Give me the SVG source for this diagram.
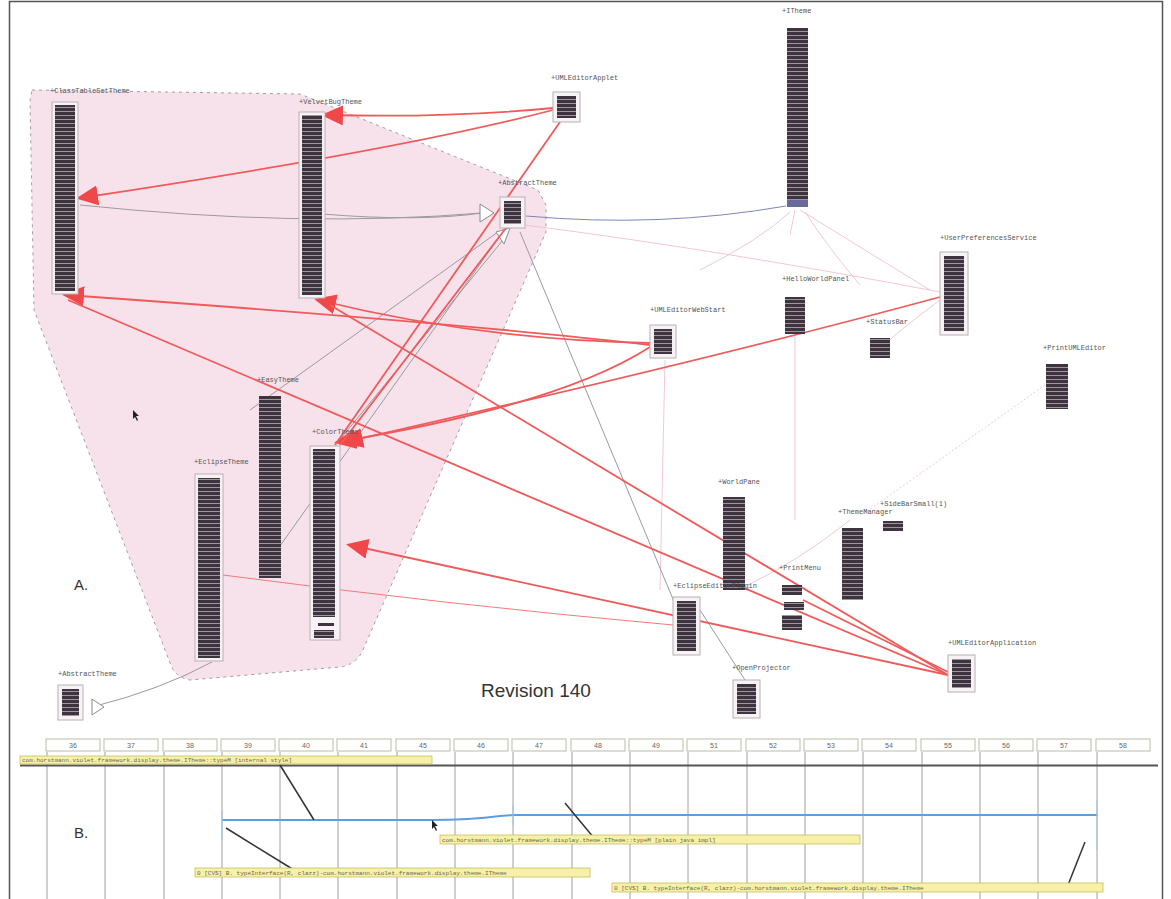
<svg xmlns="http://www.w3.org/2000/svg" width="1171" height="899" viewBox="0 0 1171 899">
<style>
.lbl{font-family:"Liberation Mono",monospace;font-size:7px;fill:#555}
.box{fill:#f7f3f5;stroke:#b8b0b4;stroke-width:1}
.bar{fill:url(#rows)}
.red{fill:none;stroke:#f05a5a;stroke-width:1.8}
.redt{fill:none;stroke:#f07a7a;stroke-width:1}
.gray{fill:none;stroke:#9a9aa0;stroke-width:1}
.pink{fill:none;stroke:#f4b8c4;stroke-width:0.8}
.hollow{fill:#fff;stroke:#8a8a90;stroke-width:1}
.hdr{fill:#fff;stroke:#b9bca8;stroke-width:1}
.hdrt{font-family:"Liberation Sans",sans-serif;font-size:7px;fill:#666;text-anchor:middle}
.vl{stroke:#a0a0a0;stroke-width:1}
.yl{fill:#f7f0a8;stroke:#c9be60;stroke-width:0.8}
.ylt{font-family:"Liberation Mono",monospace;font-size:6px;fill:#665}
.call{stroke:#333;stroke-width:1.5}
</style>
<defs>
<pattern id="rows" width="30" height="4" patternUnits="userSpaceOnUse">
<rect width="30" height="4" fill="#3e3440"/>
<rect y="3" width="30" height="0.8" fill="#b9adb6"/>
</pattern>
<marker id="ah" viewBox="0 0 22 20" refX="18" refY="10" markerWidth="22" markerHeight="20" markerUnits="userSpaceOnUse" orient="auto">
<path d="M0,0 L22,10 L0,20 z" fill="#f04848"/>
</marker>
</defs>
<rect x="0" y="0" width="1171" height="899" fill="#fff"/>
<rect x="9.5" y="1.5" width="1153" height="900" fill="none" stroke="#555" stroke-width="1.5"/>

<!-- package region -->
<path d="M32,90 L300,94 L538,190 L546,205 L546,232 L362,652 Q355,665 340,667 L190,680 Q178,678 172,668 L34,310 L30,100 Z" fill="#f7e2eb" stroke="#a89aa4" stroke-width="1" stroke-dasharray="3,4"/>

<!-- connectors -->
<g id="connectors">
<path class="pink" d="M525,225 Q720,250 940,292"/>
<path class="pink" d="M800,210 L930,290"/>
<path class="pink" d="M795,210 L790,235"/>
<path class="pink" d="M790,212 Q760,240 700,270"/>
<path class="pink" d="M805,212 Q830,250 860,285"/>
<path class="pink" d="M1045,385 L862,515" stroke-dasharray="2,2"/>
<path class="pink" d="M850,520 Q800,560 748,585"/>
<path class="pink" d="M940,300 Q900,330 890,340"/>
<path class="pink" d="M795,335 L795,520"/>
<path class="pink" d="M665,360 L660,590"/>
<path class="gray" d="M520,232 L690,640" stroke="#c4c4c8"/>
<path class="gray" d="M80,205 Q300,228 482,213"/>
<path class="gray" d="M322,214 Q420,222 482,213"/>
<path fill="none" stroke="#7f86b8" stroke-width="1" d="M526,216 Q660,228 786,206"/>
<path class="gray" d="M250,410 L498,232"/>
<path class="gray" d="M338,442 L503,240"/>
<path class="gray" d="M270,560 L500,236"/>
<path class="gray" d="M92,707 Q160,690 212,662"/>
<path class="gray" d="M700,610 L745,680" stroke="#bbb"/>
<polygon class="hollow" points="480,204 494,213 480,222"/>
<polygon class="hollow" points="496,232 510,228 504,244"/>
<polygon class="hollow" points="92,699 104,707 92,715"/>
<path class="redt" d="M223,575 Q450,605 673,625"/>
<path class="red" d="M553,108 Q450,118 325,115" marker-end="url(#ah)"/>
<path class="red" d="M553,110 Q400,150 80,198" marker-end="url(#ah)"/>
<path class="red" d="M650,345 Q450,322 66,295" marker-end="url(#ah)"/>
<path class="red" d="M650,343 Q480,340 318,300" marker-end="url(#ah)"/>
<path class="red" d="M650,347 Q560,405 338,442" marker-end="url(#ah)"/>
<path class="red" d="M940,297 Q700,362 345,442" marker-end="url(#ah)"/>
<path class="red" d="M560,122 L335,445"/>
<path class="red" d="M506,228 L340,445"/>
<path class="red" d="M948,675 L68,300"/>
<path class="red" d="M948,675 L330,305"/>
<path class="red" d="M948,675 L350,545" marker-end="url(#ah)"/>
<path class="red" d="M948,672 L803,600"/>
</g>

<!-- nodes -->
<g id="n-classtableset"><text class="lbl" x="50" y="93">+ClassTableSetTheme</text><rect class="box" x="52" y="102" width="26" height="192"/><rect class="bar" x="55" y="105" width="20" height="186"/></g>
<g id="n-velvet"><text class="lbl" x="299" y="104">+VelvetBugTheme</text><rect class="box" x="299" y="112" width="26" height="186"/><rect class="bar" x="302" y="115" width="20" height="180"/></g>
<g id="n-applet"><text class="lbl" x="551" y="80">+UMLEditorApplet</text><rect class="box" x="553" y="92" width="27" height="30"/><rect class="bar" x="557" y="96" width="19" height="22"/></g>
<g id="n-abstract"><text class="lbl" x="498" y="185">+AbstractTheme</text><rect class="box" x="500" y="197" width="25" height="31"/><rect class="bar" x="504" y="201" width="17" height="23"/></g>
<g id="n-itheme"><text class="lbl" x="782" y="13">+ITheme</text><rect class="bar" x="787" y="28" width="21" height="172"/><rect x="787" y="200" width="21" height="7" fill="#6a6a9a"/></g>
<g id="n-userpref"><text class="lbl" x="940" y="240">+UserPreferencesService</text><rect class="box" x="940" y="252" width="28" height="83"/><rect class="bar" x="944" y="256" width="20" height="75"/></g>
<g id="n-hello"><text class="lbl" x="782" y="281">+HelloWorldPanel</text><rect class="bar" x="785" y="297" width="20" height="37"/></g>
<g id="n-webstart"><text class="lbl" x="650" y="312">+UMLEditorWebStart</text><rect class="box" x="650" y="325" width="26" height="33"/><rect class="bar" x="654" y="329" width="18" height="25"/></g>
<g id="n-statusbar"><text class="lbl" x="866" y="324">+StatusBar</text><rect class="bar" x="870" y="338" width="20" height="20"/></g>
<g id="n-print"><text class="lbl" x="1043" y="350">+PrintUMLEditor</text><rect class="bar" x="1046" y="364" width="22" height="45"/></g>
<g id="n-easy"><text class="lbl" x="257" y="382">+EasyTheme</text><rect class="bar" x="259" y="396" width="22" height="182"/></g>
<g id="n-color"><text class="lbl" x="312" y="434">+ColorTheme</text><rect class="box" x="310" y="446" width="30" height="194"/><rect class="bar" x="313" y="449" width="22" height="168"/><rect x="318" y="623" width="16" height="3" fill="#3e3440"/><rect class="bar" x="314" y="630" width="20" height="8"/></g>
<g id="n-eclipse"><text class="lbl" x="194" y="464">+EclipseTheme</text><rect class="box" x="195" y="474" width="28" height="187"/><rect class="bar" x="198" y="478" width="22" height="180"/></g>
<g id="n-world"><text class="lbl" x="718" y="484">+WorldPane</text><rect class="bar" x="723" y="497" width="22" height="93"/></g>
<g id="n-theme-mgr"><text class="lbl" x="838" y="514">+ThemeManager</text><rect class="bar" x="842" y="528" width="21" height="72"/></g>
<g id="n-sidebar"><text class="lbl" x="880" y="506">+SideBarSmall(1)</text><rect class="bar" x="883" y="521" width="20" height="10"/></g>
<g id="n-printmenu"><text class="lbl" x="779" y="570">+PrintMenu</text><rect class="bar" x="782" y="585" width="20" height="10"/><rect class="bar" x="784" y="602" width="20" height="8"/><rect class="bar" x="782" y="615" width="20" height="15"/></g>
<g id="n-plugin"><text class="lbl" x="673" y="588">+EclipseEditorPlugin</text><rect class="box" x="673" y="597" width="27" height="58"/><rect class="bar" x="677" y="601" width="19" height="50"/></g>
<g id="n-projector"><text class="lbl" x="732" y="670">+OpenProjector</text><rect class="box" x="733" y="680" width="27" height="38"/><rect class="bar" x="737" y="684" width="19" height="30"/></g>
<g id="n-application"><text class="lbl" x="948" y="645">+UMLEditorApplication</text><rect class="box" x="948" y="655" width="27" height="37"/><rect class="bar" x="952" y="659" width="19" height="29"/></g>
<g id="n-abstract2"><text class="lbl" x="58" y="676">+AbstractTheme</text><rect class="box" x="58" y="685" width="25" height="35"/><rect class="bar" x="62" y="689" width="17" height="27"/></g>

<text x="74" y="590" font-family="Liberation Sans,sans-serif" font-size="15" fill="#333">A.</text>
<text x="481" y="697" font-family="Liberation Sans,sans-serif" font-size="19" fill="#333">Revision 140</text>
<path d="M133,410 L133,419 L135,417 L137,421 L138,420 L136,416 L139,416 Z" fill="#222"/>

<!-- timeline -->
<g id="timeline">
<g id="vlines">
<line class="vl" x1="47" y1="752" x2="47" y2="899"/><line class="vl" x1="105" y1="752" x2="105" y2="899"/><line class="vl" x1="164" y1="752" x2="164" y2="899"/><line class="vl" x1="222" y1="752" x2="222" y2="899"/><line class="vl" x1="280" y1="752" x2="280" y2="899"/><line class="vl" x1="338" y1="752" x2="338" y2="899"/><line class="vl" x1="397" y1="752" x2="397" y2="899"/><line class="vl" x1="455" y1="752" x2="455" y2="899"/><line class="vl" x1="513" y1="752" x2="513" y2="899"/><line class="vl" x1="572" y1="752" x2="572" y2="899"/><line class="vl" x1="630" y1="752" x2="630" y2="899"/><line class="vl" x1="688" y1="752" x2="688" y2="899"/><line class="vl" x1="747" y1="752" x2="747" y2="899"/><line class="vl" x1="805" y1="752" x2="805" y2="899"/><line class="vl" x1="863" y1="752" x2="863" y2="899"/><line class="vl" x1="922" y1="752" x2="922" y2="899"/><line class="vl" x1="980" y1="752" x2="980" y2="899"/><line class="vl" x1="1038" y1="752" x2="1038" y2="899"/><line class="vl" x1="1097" y1="752" x2="1097" y2="899"/>
</g>
<g id="hdr">
<rect class="hdr" x="46" y="739" width="54" height="12"/><text class="hdrt" x="73" y="747.5">36</text>
<rect class="hdr" x="104" y="739" width="54" height="12"/><text class="hdrt" x="131" y="747.5">37</text>
<rect class="hdr" x="163" y="739" width="54" height="12"/><text class="hdrt" x="190" y="747.5">38</text>
<rect class="hdr" x="221" y="739" width="54" height="12"/><text class="hdrt" x="248" y="747.5">39</text>
<rect class="hdr" x="279" y="739" width="54" height="12"/><text class="hdrt" x="306" y="747.5">40</text>
<rect class="hdr" x="337" y="739" width="54" height="12"/><text class="hdrt" x="364" y="747.5">41</text>
<rect class="hdr" x="396" y="739" width="54" height="12"/><text class="hdrt" x="423" y="747.5">45</text>
<rect class="hdr" x="454" y="739" width="54" height="12"/><text class="hdrt" x="481" y="747.5">46</text>
<rect class="hdr" x="512" y="739" width="54" height="12"/><text class="hdrt" x="539" y="747.5">47</text>
<rect class="hdr" x="571" y="739" width="54" height="12"/><text class="hdrt" x="598" y="747.5">48</text>
<rect class="hdr" x="629" y="739" width="54" height="12"/><text class="hdrt" x="656" y="747.5">49</text>
<rect class="hdr" x="687" y="739" width="54" height="12"/><text class="hdrt" x="714" y="747.5">51</text>
<rect class="hdr" x="746" y="739" width="54" height="12"/><text class="hdrt" x="773" y="747.5">52</text>
<rect class="hdr" x="804" y="739" width="54" height="12"/><text class="hdrt" x="831" y="747.5">53</text>
<rect class="hdr" x="862" y="739" width="54" height="12"/><text class="hdrt" x="889" y="747.5">54</text>
<rect class="hdr" x="921" y="739" width="54" height="12"/><text class="hdrt" x="948" y="747.5">55</text>
<rect class="hdr" x="979" y="739" width="54" height="12"/><text class="hdrt" x="1006" y="747.5">56</text>
<rect class="hdr" x="1037" y="739" width="54" height="12"/><text class="hdrt" x="1064" y="747.5">57</text>
<rect class="hdr" x="1096" y="739" width="54" height="12"/><text class="hdrt" x="1123" y="747.5">58</text>
</g>
<line x1="20" y1="765.5" x2="1158" y2="765.5" stroke="#555" stroke-width="2"/>
<path d="M222,820 L430,820 Q470,820 500,816 L513,815 L1097,815" fill="none" stroke="#5aa0e0" stroke-width="2"/>
<line x1="222" y1="810" x2="222" y2="840" stroke="#9cc4ea" stroke-width="1"/>
<line x1="513" y1="805" x2="513" y2="825" stroke="#9cc4ea" stroke-width="1"/>
<line x1="1097" y1="800" x2="1097" y2="850" stroke="#9cc4ea" stroke-width="1"/>
<line x1="280" y1="765" x2="314" y2="820" class="call"/>
<line x1="226" y1="828" x2="294" y2="870" class="call"/>
<line x1="565" y1="803" x2="594" y2="838" class="call"/>
<line x1="1085" y1="842" x2="1068" y2="885" class="call"/>
<rect class="yl" x="20" y="756" width="412" height="8"/><text class="ylt" x="22" y="762">com.horstmann.violet.framework.display.theme.ITheme::typeM [internal style]</text>
<rect class="yl" x="440" y="835" width="420" height="9"/><text class="ylt" x="442" y="842">com.horstmann.violet.framework.display.theme.ITheme::typeM [plain java impl]</text>
<rect class="yl" x="195" y="868" width="395" height="9"/><text class="ylt" x="197" y="875">0 [CVS] B. typeInterface(R, clazz)-com.horstmann.violet.framework.display.theme.ITheme</text>
<rect class="yl" x="612" y="883" width="491" height="9"/><text class="ylt" x="614" y="890">0 [CVS] B. typeInterface(R, clazz)-com.horstmann.violet.framework.display.theme.ITheme</text>
<path d="M432,820 L432,829 L434,827 L436,831 L437,830 L435,826 L438,826 Z" fill="#222"/>
</g>
<text x="74" y="838" font-family="Liberation Sans,sans-serif" font-size="15" fill="#333">B.</text>
</svg>
